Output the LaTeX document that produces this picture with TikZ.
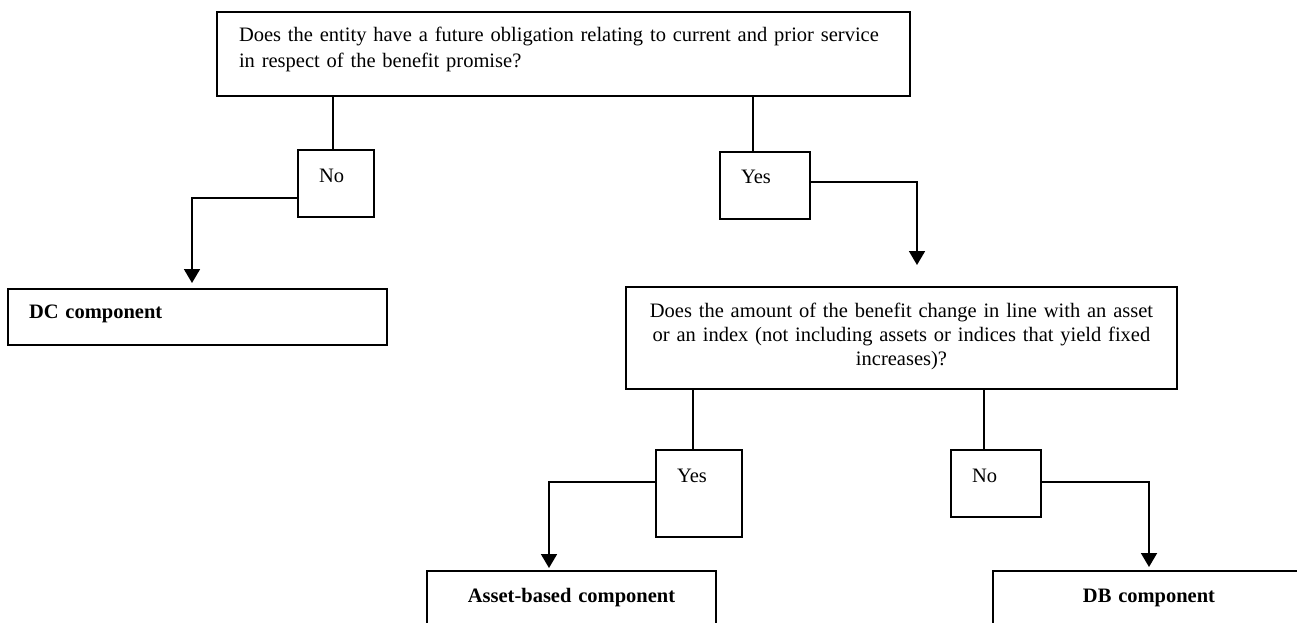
\documentclass[tikz,border=0pt]{standalone}
\usepackage{fontspec}
\setmainfont{Liberation Serif}
\usetikzlibrary{arrows.meta}

\begin{document}
\begin{tikzpicture}[x=1pt, y=-1pt, >={Triangle[length=14pt,width=16pt]}, line width=1.8pt,
    flowbox/.style={draw, line width=1.8pt, inner ysep=0pt, outer sep=0pt, anchor=north west, font=\fontsize{20.5}{26}\selectfont},
    ansbox/.style={flowbox, inner xsep=21pt, align=left},
    endbox/.style={flowbox, inner xsep=10pt, align=center, font=\fontsize{20.5}{24}\selectfont\bfseries}]
  \useasboundingbox (0,0) rectangle (1297,623);
  \clip (0,0) rectangle (1297,623);
  % questions
  \node[flowbox, inner xsep=22pt, text width=649pt, align=left, text height=30pt, text depth=54pt] (q1) at (217,12)
    {Does the entity have a future obligation relating to current and prior service\\in respect of the benefit promise?};
  \node[flowbox, inner xsep=10pt, text width=531pt, align=center, text height=30pt, text depth=72pt,
    font=\fontsize{20.5}{24}\selectfont] (q2) at (626,287)
    {Does the amount of the benefit change in line with an asset\\or an index (not including assets or indices that yield fixed\\increases)?};
  % answers
  \node[ansbox, text width=34pt, text height=32pt, text depth=35pt] (no1) at (298,150) {No};
  \node[ansbox, text width=48pt, text height=31pt, text depth=36pt] (yes1) at (720,152) {Yes};
  \node[ansbox, text width=44pt, text height=32pt, text depth=55pt] (yes2) at (656,450) {Yes};
  \node[ansbox, text width=48pt, text height=32pt, text depth=35pt] (no2) at (951,450) {No};
  % results
  \node[endbox, inner xsep=21pt, text width=337pt, align=left, text height=29pt, text depth=27pt] (dc) at (8,289) {DC component};
  \node[endbox, text width=269pt, text height=31pt, text depth=25pt] (asset) at (427,571) {Asset-based component};
  \node[endbox, text width=292pt, text height=31pt, text depth=25pt] (db) at (993,571) {DB component};
  % stems
  \coordinate (s1) at ([xshift=-3pt]no1.north);
  \coordinate (s2) at ([xshift=-12pt]yes1.north);
  \coordinate (s3) at ([xshift=-6pt]yes2.north);
  \coordinate (s4) at ([xshift=-12pt]no2.north);
  \draw (s1 |- q1.south) -- (s1);
  \draw (s2 |- q1.south) -- (s2);
  \draw (s3 |- q2.south) -- (s3);
  \draw (s4 |- q2.south) -- (s4);
  % arrows
  \draw[->, shorten >=6pt] ([yshift=-14.5pt]no1.west) -| ([xshift=-5.5pt]dc.north);
  \draw[->, shorten >=22pt] ([yshift=3.5pt]yes1.east) -| ([xshift=15.5pt]q2.north);
  \draw[->, shorten >=3pt] ([yshift=11.5pt]yes2.west) -| ([xshift=-22.5pt]asset.north);
  \draw[->, shorten >=4pt] ([yshift=1.5pt]no2.east) -| (db.north);
\end{tikzpicture}
\end{document}
